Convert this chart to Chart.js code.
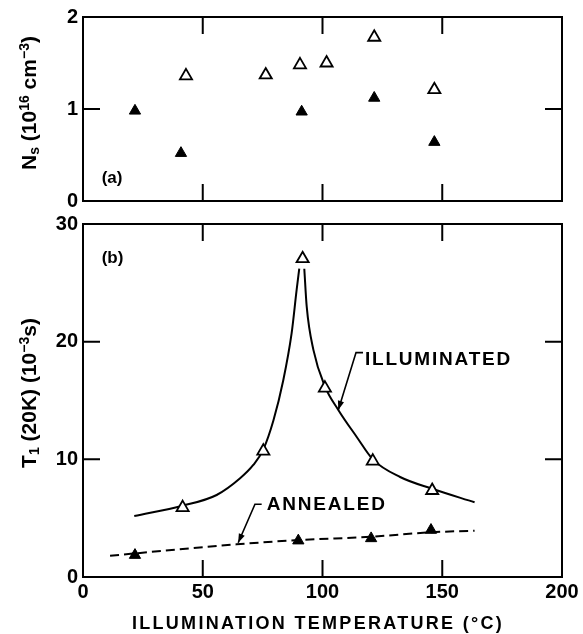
<!DOCTYPE html>
<html><head><meta charset="utf-8">
<script src="https://cdn.jsdelivr.net/npm/chart.js@4.4.1/dist/chart.umd.min.js"></script>
<style>
html,body{margin:0;padding:0;background:#fff;}
#wrap{position:relative;width:583px;height:634px;background:#fff;}
canvas{position:absolute;left:0;top:0;}
</style></head><body>
<div id="wrap"><canvas id="c1" width="583" height="634"></canvas><canvas id="c2" width="583" height="634"></canvas></div>
<script>
// ---------- data ----------
const xTickValues = [0, 50, 100, 150, 200];
const nsTickValues = [0, 1, 2];
const t1TickValues = [0, 10, 20, 30];

// panel (a): Ns (10^16 cm^-3)
const nsIllumTemp = [43, 76.3, 90.6, 101.7, 121.6, 146.7];
const nsIllumVal  = [1.36, 1.37, 1.48, 1.50, 1.78, 1.21];
const nsAnnealTemp = [21.7, 40.9, 91.3, 121.6, 146.7];
const nsAnnealVal  = [0.98, 0.52, 0.97, 1.12, 0.64];

// panel (b): T1(20K) (10^-3 s) measured points
const t1IllumTemp = [41.6, 75.3, 91.7, 101, 121, 145.8];
const t1IllumVal  = [5.9, 10.7, 27.05, 16.05, 9.85, 7.35];
const t1AnnealTemp = [21.7, 89.9, 120.3, 145.3];
const t1AnnealVal  = [1.86, 3.09, 3.28, 3.99];

// panel (b): drawn curves
const illumLeftTemp = [21.4, 41.6, 55.8, 65.6, 71.1, 75.3, 79.5, 83.6, 87.1, 89.2, 90.3];
const illumLeftVal  = [5.18, 6.06, 6.97, 8.39, 9.52, 10.85, 13.3, 16.7, 20.7, 24.4, 26.2];
const illumRightTemp = [92.4, 93.4, 96.2, 101, 106.6, 114.3, 121, 132.4, 145.8, 163.5];
const illumRightVal  = [26.2, 23.0, 19.3, 16.2, 14.2, 11.9, 10.0, 8.5, 7.5, 6.35];
const annealCurveTemp = [11.3, 64.2, 89.9, 120.3, 145.3, 163.5];
const annealCurveVal  = [1.81, 2.78, 3.14, 3.42, 3.8, 3.93];

// labels
const xTitle = 'ILLUMINATION TEMPERATURE (°C)';
const nsTitleRuns = [['N','n'],['s','sub'],[' (10','n'],['16','sup'],[' cm','n'],['−3','sup'],[')','n']];
const t1TitleRuns = [['T','n'],['1','sub'],[' (20K) (10','n'],['−3','sup'],['s)','n']];
const panelLabelA = '(a)';
const panelLabelB = '(b)';
const annotations = [
  {text:'ILLUMINATED', textX:117.7, textY:18.6, elbow:[114.0,19.07], lineEnd:116.9, tip:[106.6,14.2]},
  {text:'ANNEALED', textX:76.7, textY:6.26, elbow:[71.8,6.18], lineEnd:74.6, tip:[64.8,2.91]}
];

// ---------- helpers ----------
const FONT = '"Liberation Sans", Arial, Helvetica, sans-serif';
const pts = (xs, ys) => xs.map((x, i) => ({x, y: ys[i]}));

function frameAndTicks(chart) {
  const {ctx, chartArea: a, scales} = chart;
  const L = 17;
  ctx.save();
  ctx.strokeStyle = '#000';
  ctx.lineWidth = 2;
  ctx.strokeRect(a.left, a.top, a.right - a.left, a.bottom - a.top);
  ctx.beginPath();
  xTickValues.forEach(v => {
    if (v <= scales.x.min || v >= scales.x.max) return;
    const px = scales.x.getPixelForValue(v);
    ctx.moveTo(px, a.top); ctx.lineTo(px, a.top + L);
    ctx.moveTo(px, a.bottom); ctx.lineTo(px, a.bottom - L);
  });
  scales.y.ticks.forEach(t => {
    const v = t.value;
    if (v <= scales.y.min || v >= scales.y.max) return;
    const py = scales.y.getPixelForValue(v);
    ctx.moveTo(a.left, py); ctx.lineTo(a.left + L, py);
    ctx.moveTo(a.right, py); ctx.lineTo(a.right - L, py);
  });
  ctx.stroke();
  ctx.restore();
}

function drawRotatedRich(ctx, runs, baseX, centerY, size) {
  ctx.save();
  ctx.translate(baseX, centerY);
  ctx.rotate(-Math.PI / 2);
  ctx.fillStyle = '#000';
  ctx.textAlign = 'left';
  ctx.textBaseline = 'alphabetic';
  const small = Math.round(size * 0.68);
  let total = 0;
  const ws = runs.map(([t, k]) => {
    ctx.font = `bold ${k === 'n' ? size : small}px ${FONT}`;
    const w = ctx.measureText(t).width;
    total += w;
    return w;
  });
  let x = -total / 2;
  runs.forEach(([t, k], i) => {
    ctx.font = `bold ${k === 'n' ? size : small}px ${FONT}`;
    const dy = k === 'sup' ? -size * 0.34 : (k === 'sub' ? size * 0.12 : 0);
    ctx.fillText(t, x, dy);
    x += ws[i];
  });
  ctx.restore();
}

function drawLabel(ctx, text, px, py, size, spacing) {
  ctx.save();
  ctx.fillStyle = '#000';
  ctx.font = `bold ${size}px ${FONT}`;
  ctx.textAlign = 'left';
  ctx.textBaseline = 'alphabetic';
  if (spacing) ctx.letterSpacing = spacing + 'px';
  ctx.fillText(text, px, py + size * 0.358);
  ctx.restore();
}

const tickFont = {family: FONT, size: 20, weight: 'bold'};

function baseOptions(yMin, yMax, yStep, padding, showX) {
  return {
    responsive: false,
    devicePixelRatio: 1,
    animation: false,
    events: [],
    layout: {padding},
    plugins: {legend: {display: false}, tooltip: {enabled: false}, title: {display: false}},
    scales: {
      x: {
        type: 'linear', min: 0, max: 200, display: showX,
        afterBuildTicks: s => { s.ticks = xTickValues.map(v => ({value: v})); },
        ticks: {font: tickFont, color: '#000', padding: 3, maxRotation: 0, autoSkip: false},
        grid: {display: false, drawTicks: false},
        border: {display: false},
        afterFit: s => { s.height = showX ? 57 : 0; }
      },
      y: {
        type: 'linear', min: yMin, max: yMax,
        ticks: {stepSize: yStep, font: tickFont, color: '#000', padding: 5},
        grid: {display: false, drawTicks: false},
        border: {display: false},
        afterFit: s => { s.width = 83; }
      }
    }
  };
}

// ---------- panel (a) ----------
const optA = baseOptions(0, 2, 1, {top: 13, right: 21, bottom: 433, left: 0}, false);
optA.scales.y.afterBuildTicks = s => { s.ticks = nsTickValues.map(v => ({value: v})); };
new Chart(document.getElementById('c1'), {
  type: 'scatter',
  data: {datasets: [
    {data: pts(nsIllumTemp, nsIllumVal), pointStyle: 'triangle', pointRadius: 7,
     backgroundColor: '#fff', borderColor: '#000', borderWidth: 1.8, showLine: false},
    {data: pts(nsAnnealTemp, nsAnnealVal), pointStyle: 'triangle', pointRadius: 6.5,
     backgroundColor: '#000', borderColor: '#000', borderWidth: 1, showLine: false}
  ]},
  options: optA,
  plugins: [{
    id: 'decoA',
    afterDraw(chart) {
      const {ctx, scales} = chart;
      frameAndTicks(chart);
      drawLabel(ctx, panelLabelA, scales.x.getPixelForValue(7.8), scales.y.getPixelForValue(0.26), 17, 0);
      drawRotatedRich(ctx, nsTitleRuns, 36, 103, 21);
    }
  }]
});

// ---------- panel (b) ----------
const optB = baseOptions(0, 30, 10, {top: 224, right: 21, bottom: 0, left: 0}, true);
optB.scales.y.afterBuildTicks = s => { s.ticks = t1TickValues.map(v => ({value: v})); };
new Chart(document.getElementById('c2'), {
  type: 'scatter',
  data: {datasets: [
    {data: pts(t1IllumTemp, t1IllumVal), pointStyle: 'triangle', pointRadius: 7,
     backgroundColor: '#fff', borderColor: '#000', borderWidth: 1.8, showLine: false, order: 0},
    {data: pts(t1AnnealTemp, t1AnnealVal), pointStyle: 'triangle', pointRadius: 6.5,
     backgroundColor: '#000', borderColor: '#000', borderWidth: 1, showLine: false, order: 0},
    {data: pts(illumLeftTemp, illumLeftVal), showLine: true, pointRadius: 0, borderColor: '#000',
     borderWidth: 2, cubicInterpolationMode: 'monotone', order: 1},
    {data: pts(illumRightTemp, illumRightVal), showLine: true, pointRadius: 0, borderColor: '#000',
     borderWidth: 2, cubicInterpolationMode: 'monotone', order: 1},
    {data: pts(annealCurveTemp, annealCurveVal), showLine: true, pointRadius: 0, borderColor: '#000',
     borderWidth: 2, borderDash: [9, 5], cubicInterpolationMode: 'monotone', order: 1}
  ]},
  options: optB,
  plugins: [{
    id: 'decoB',
    afterDraw(chart) {
      const {ctx, scales} = chart;
      const X = v => scales.x.getPixelForValue(v), Y = v => scales.y.getPixelForValue(v);
      frameAndTicks(chart);
      drawLabel(ctx, panelLabelB, X(7.8), Y(27.2), 17, 0);
      annotations.forEach(an => {
        drawLabel(ctx, an.text, X(an.textX), Y(an.textY), 19, 1.8);
        const ex = X(an.elbow[0]), ey = Y(an.elbow[1]);
        const tx = X(an.tip[0]), ty = Y(an.tip[1]);
        ctx.save();
        ctx.strokeStyle = '#000'; ctx.fillStyle = '#000'; ctx.lineWidth = 1.6;
        ctx.beginPath();
        ctx.moveTo(X(an.lineEnd), ey); ctx.lineTo(ex, ey); ctx.lineTo(tx, ty);
        ctx.stroke();
        const ang = Math.atan2(ty - ey, tx - ex);
        const len = 9, hw = 3.2;
        ctx.beginPath();
        ctx.moveTo(tx, ty);
        ctx.lineTo(tx - len * Math.cos(ang) + hw * Math.sin(ang), ty - len * Math.sin(ang) - hw * Math.cos(ang));
        ctx.lineTo(tx - len * Math.cos(ang) - hw * Math.sin(ang), ty - len * Math.sin(ang) + hw * Math.cos(ang));
        ctx.closePath(); ctx.fill();
        ctx.restore();
      });
      drawRotatedRich(ctx, t1TitleRuns, 36, 393, 21);
      ctx.save();
      ctx.fillStyle = '#000';
      ctx.font = `bold 18px ${FONT}`;
      ctx.letterSpacing = '2.3px';
      ctx.textAlign = 'center';
      ctx.textBaseline = 'alphabetic';
      ctx.fillText(xTitle, 318, 623 + 18 * 0.358);
      ctx.restore();
    }
  }]
});
</script>
</body></html>
